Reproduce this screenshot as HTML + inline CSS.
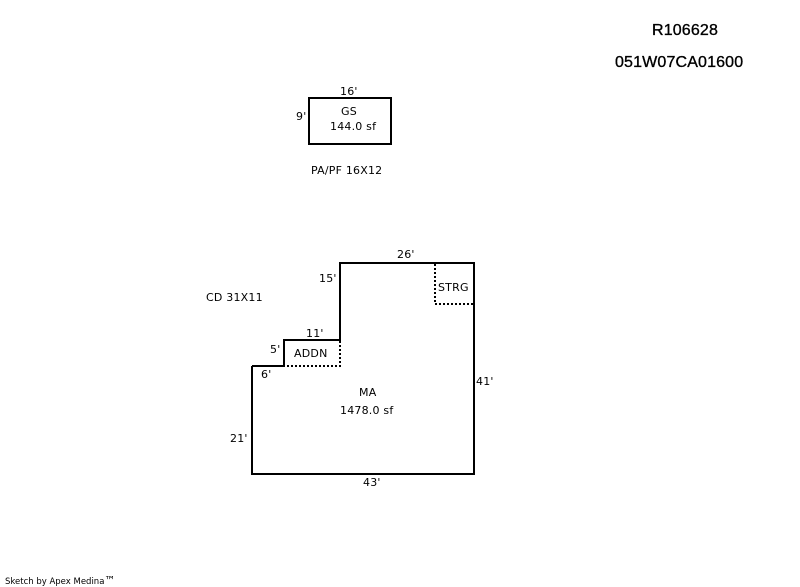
<!DOCTYPE html>
<html>
<head>
<meta charset="utf-8">
<style>
html,body{margin:0;padding:0;background:#fff;width:800px;height:587px;overflow:hidden}
svg{display:block}
text{font-family:"DejaVu Sans","Liberation Sans",sans-serif;font-size:11px;letter-spacing:.2px;fill:#000}
.t{font-family:"Liberation Sans",sans-serif;font-size:16px;letter-spacing:.15px;stroke:#000;stroke-width:.35px}
</style>
</head>
<body>
<svg width="800" height="587" viewBox="0 0 800 587" xmlns="http://www.w3.org/2000/svg">
<g fill="none" stroke="#000" stroke-width="2" shape-rendering="crispEdges">
<rect x="309" y="98" width="82" height="46"/>
<path d="M252 366V474H474V263H340V340H284V366H252"/>
<g stroke-dasharray="2 2">
<path d="M340 341V366H284"/>
<path d="M435 264V304H473"/>
</g>
</g>
<text class="t" x="652" y="35">R106628</text>
<text class="t" x="615" y="67">051W07CA01600</text>
<text x="340" y="95">16'</text>
<text x="296" y="120">9'</text>
<text x="341" y="115">GS</text>
<text x="330" y="130">144.0 sf</text>
<text x="311" y="174">PA/PF 16X12</text>
<text x="206" y="301">CD 31X11</text>
<text x="397" y="258">26'</text>
<text x="319" y="282">15'</text>
<text x="438" y="291">STRG</text>
<text x="306" y="337">11'</text>
<text x="270" y="353">5'</text>
<text x="294" y="357">ADDN</text>
<text x="261" y="378">6'</text>
<text x="476" y="385">41'</text>
<text x="359" y="396">MA</text>
<text x="340" y="414">1478.0 sf</text>
<text x="230" y="442">21'</text>
<text x="363" y="486">43'</text>
<text x="5" y="584" style="font-size:8.5px;letter-spacing:0">Sketch by Apex Medina<tspan font-size="11">™</tspan></text>
</svg>
</body>
</html>
